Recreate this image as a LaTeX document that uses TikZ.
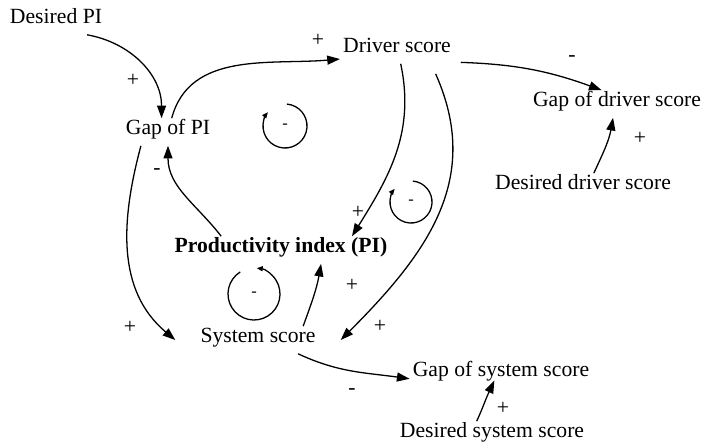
\documentclass[tikz,border=0pt]{standalone}
\usepackage{fontspec}
\setmainfont{Liberation Serif}
\usetikzlibrary{arrows.meta}

\begin{document}
\begin{tikzpicture}[x=0.03cm,y=0.03cm,
  every node/.style={font=\fontsize{18.5}{21}\selectfont},
  var/.style={inner xsep=0.09cm,inner ysep=0.24cm,text height=0.7em,text depth=0.25em},
  signlbl/.style={inner sep=0pt},
  looplbl/.style={inner sep=0pt,font=\fontsize{14}{16}\selectfont},
  causal/.style={line width=1.1pt,-{Triangle[length=0.38cm,width=0.27cm]}},
  loopmark/.style={line width=1.1pt,-{Triangle[length=0.18cm,width=0.15cm]}}]
\useasboundingbox (0,0) rectangle (702,446);

% variables
\node[var] (dpi) at (56,425) {Desired PI};
\node[var] (gpi) at (168,314) {Gap of PI};
\node[var] (drv) at (397,396) {Driver score};
\node[var] (gdrv) at (617,342) {Gap of driver score};
\node[var] (ddrv) at (583,259) {Desired driver score};
\node[var,font=\fontsize{18.5}{21}\selectfont\bfseries] (pi) at (281,196) {Productivity index (PI)};
\node[var,inner xsep=0.75cm] (sys) at (258,106) {System score};
\node[var] (gsys) at (501,72) {Gap of system score};
\node[var] (dsys) at (492,11) {Desired system score};

% links
\draw[causal] (dpi.-24) to[out=-10,in=90] (gpi.115);
\draw[causal] (gpi.75) to[out=75,in=185] (drv.189);
\draw[causal,shorten <=0.2cm] (drv.-12) to[out=-2,in=160] (gdrv.138);
\draw[causal] (ddrv.52) to[out=65,in=-100] (gdrv.-106);
\draw[causal] (drv.-75) to[out=-78,in=58] (pi.11.5);
\draw[causal,shorten <=0.33cm] (drv.-22) to[out=-66,in=45,looseness=1.1] (sys.east);
\draw[causal] (pi.167) to[out=128,in=-90] (gpi.south);
\draw[causal] (gpi.-153) to[out=-105,in=140] (sys.west);
\draw[causal] (sys.17) to[out=70,in=-100] (pi.-19);
\draw[causal] (sys.-19) to[out=-25,in=172] (gsys.183);
\draw[causal,shorten >=-0.24cm] (dsys.138) to[out=65,in=-115] (gsys.-126);

% polarities
\node[signlbl] (s1) at (133,366) {+};
\node[signlbl] (s2) at (318,406) {+};
\node[signlbl] (s3) at (572,387) {-};
\node[signlbl] (s4) at (640,308) {+};
\node[signlbl] (s5) at (358,234) {+};
\node[signlbl] (s6) at (380,120) {+};
\node[signlbl] (s7) at (157,274) {-};
\node[signlbl] (s8) at (130,119) {+};
\node[signlbl] (s9) at (352,161) {+};
\node[signlbl] (s10) at (352,54) {-};
\node[signlbl] (s11) at (503,38) {+};

% loops
\node[looplbl] (l1) at (285,320) {-};
\draw[loopmark] (l1) ++(85:22) arc[start angle=85,end angle=-219,radius=22];
\node[looplbl] (l2) at (411,244) {-};
\draw[loopmark] (l2) ++(85:21) arc[start angle=85,end angle=-219,radius=21];
\node[looplbl] (l3) at (254,152) {-};
\draw[loopmark] (l3) ++(122:26) arc[start angle=122,end angle=444,radius=26];
\end{tikzpicture}
\end{document}
